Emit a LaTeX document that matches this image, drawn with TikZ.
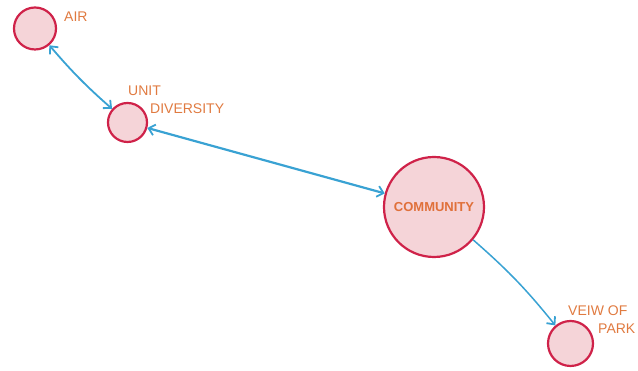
\documentclass[tikz,border=0pt]{standalone}
\usepackage{fontspec}
\setmainfont{Liberation Sans}
\usetikzlibrary{arrows.meta}
\definecolor{bubblefill}{HTML}{F5D4D8}
\definecolor{bubbleedge}{HTML}{CF2249}
\definecolor{labelorange}{HTML}{E07A40}
\definecolor{titleorange}{HTML}{E0703A}
\definecolor{linkblue}{HTML}{39A2D3}
\tikzset{barb/.tip={Straight Barb[length=6pt,width=11pt,line width=1.8pt]}}
\begin{document}
\begin{tikzpicture}[x=1pt,y=1pt,
  bubble/.style={circle,draw=bubbleedge,fill=bubblefill,line width=2.2pt,inner sep=0pt},
  tag/.style={anchor=base west,text=labelorange,font=\fontsize{14}{16}\selectfont,inner sep=0pt},
  link/.style={draw=linkblue,line width=1.8pt}]
\useasboundingbox (0,0) rectangle (638,371);

% bubbles
\node[bubble,minimum size=42pt] (air) at (35,342.5) {};
\node[bubble,minimum size=39pt] (unit) at (127.5,248.5) {};
\node[bubble,minimum size=100pt,text=titleorange,
      font=\fontsize{13}{15}\selectfont\bfseries] (comm) at (434,164) {COMMUNITY};
\node[bubble,minimum size=45pt] (park) at (570.5,27.5) {};

% labels
\node[tag] (lair) at (64,349) {AIR};
\node[tag] (lunit) at (128,275) {UNIT};
\node[tag] (ldiv) at (150,257) {DIVERSITY};
\node[tag] (lveiw) at (568,55) {VEIW OF};
\node[tag] (lpark) at (598,37) {PARK};

% connectors
\draw[link,barb-barb] (air) to[bend right=4] (unit);
\draw[link,line width=2.2pt,barb-barb] (unit) -- (comm);
\draw[link,line width=1.5pt,-barb] (comm) to[bend left=5] (park);
\end{tikzpicture}
\end{document}
